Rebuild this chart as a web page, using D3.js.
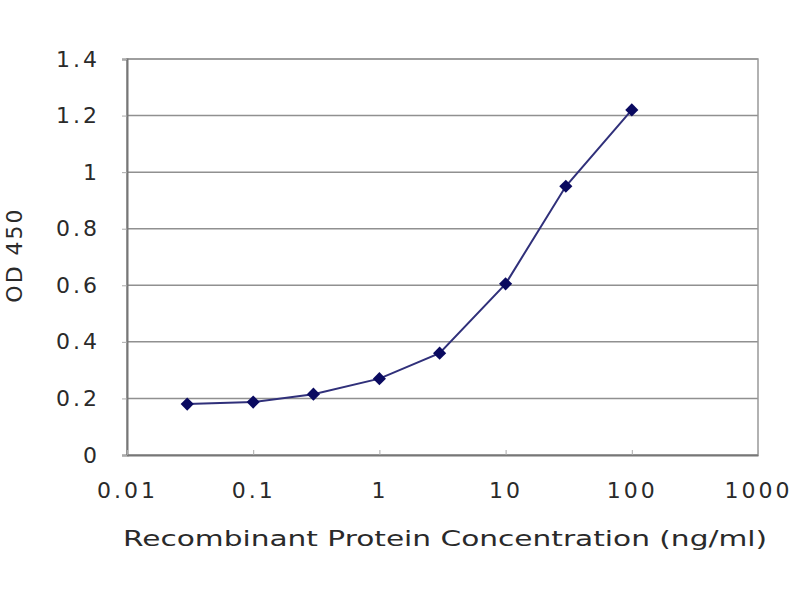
<!DOCTYPE html>
<html>
<head>
<meta charset="utf-8">
<script src="https://cdn.jsdelivr.net/npm/d3@7"></script>
<style>
  body { margin: 0; background: #fff; }
  text { font-family: "DejaVu Sans", Verdana, sans-serif; fill: #2a2a2a; }
</style>
</head>
<body>
<svg id="chart" width="800" height="600"></svg>
<script>
"use strict";

// concentration (ng/ml) and measured OD 450
let concentrations = [0.03, 0.1, 0.3, 1, 3, 10, 30, 100];
let odValues = [0.18, 0.187, 0.215, 0.27, 0.36, 0.605, 0.95, 1.22];
let xTicks = [0.01, 0.1, 1, 10, 100, 1000];
let xTickLabels = ["0.01", "0.1", "1", "10", "100", "1000"];
let yTicks = [0, 0.2, 0.4, 0.6, 0.8, 1, 1.2, 1.4];
let yTickLabels = ["0", "0.2", "0.4", "0.6", "0.8", "1", "1.2", "1.4"];

let svg = d3.select("#chart");
let margin = { top: 59, right: 42, bottom: 145, left: 127 };
let width = 800 - margin.left - margin.right;
let height = 600 - margin.top - margin.bottom;

let x = d3.scaleLog().domain([0.01, 1000]).range([0, width]);
let y = d3.scaleLinear().domain([0, 1.4]).range([height, 0]);

let g = svg.append("g").attr("transform", `translate(${margin.left},${margin.top})`);

// horizontal gridlines
g.selectAll(".grid").data(yTicks.slice(1)).enter().append("line")
    .attr("x1", 0).attr("x2", width)
    .attr("y1", d => y(d)).attr("y2", d => y(d))
    .attr("stroke", "#909090").attr("stroke-width", 1.5);

// plot frame
g.append("rect").attr("x", 0).attr("y", 0).attr("width", width).attr("height", height)
    .attr("fill", "none").attr("stroke", "#999").attr("stroke-width", 1.5);

// y axis
let yAxis = g.append("g").call(d3.axisLeft(y).tickValues(yTicks).tickSize(5).tickPadding(22)
    .tickFormat((d, i) => yTickLabels[i]));
yAxis.select(".domain").attr("stroke", "#777").attr("stroke-width", 2);
yAxis.selectAll(".tick line").attr("stroke", "#aaa");
yAxis.selectAll(".tick text").style("font-size", "22px").style("letter-spacing", "3px")
    .attr("fill", "#2a2a2a");

// x axis, ticks point inside the plot
let xAxis = g.append("g").attr("transform", `translate(0,${height})`)
    .call(d3.axisBottom(x).tickValues(xTicks).tickSizeInner(-5).tickSizeOuter(0).tickPadding(27)
    .tickFormat((d, i) => xTickLabels[i]));
xAxis.select(".domain").attr("stroke", "#777").attr("stroke-width", 2);
xAxis.selectAll(".tick line").attr("stroke", "#aaa");
xAxis.selectAll(".tick text").style("font-size", "22px").style("letter-spacing", "3px")
    .attr("fill", "#2a2a2a");

// data line
let line = d3.line().x((d, i) => x(concentrations[i])).y(d => y(d));
g.append("path").datum(odValues)
    .attr("d", line).attr("fill", "none")
    .attr("stroke", "#30307a").attr("stroke-width", 2);

// diamond markers
g.selectAll(".pt").data(odValues).enter().append("path")
    .attr("transform", (d, i) => `translate(${x(concentrations[i])},${y(d)})`)
    .attr("d", d3.symbol().type(d3.symbolDiamond2).size(110))
    .attr("fill", "#0a0a60");

// axis titles
svg.append("text").attr("x", 445).attr("y", 546).attr("text-anchor", "middle")
    .style("font-size", "22px").attr("textLength", 644).attr("lengthAdjust", "spacingAndGlyphs")
    .attr("fill", "#333")
    .text("Recombinant Protein Concentration (ng/ml)");

svg.append("text").attr("transform", "translate(22,255) rotate(-90)").attr("text-anchor", "middle")
    .style("font-size", "22px").style("letter-spacing", "2px").attr("fill", "#333")
    .text("OD 450");
</script>
</body>
</html>
